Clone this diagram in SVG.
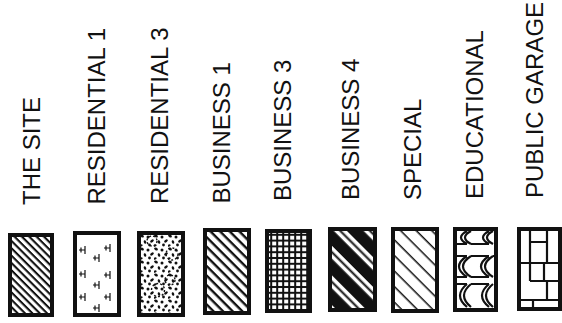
<svg xmlns="http://www.w3.org/2000/svg" width="562" height="323" viewBox="0 0 562 323">
<style>
.lbl{font-family:"Liberation Sans",Arial,sans-serif;font-size:24px;fill:#111}
.box{stroke:#111;stroke-width:4}
.ln{fill:none;stroke:#111;stroke-width:2.2}
</style>
<defs>
<pattern id="p1" width="10" height="5.2" patternUnits="userSpaceOnUse" patternTransform="rotate(45)">
<rect x="0" y="0" width="10" height="2.1" fill="#111"/></pattern>
<pattern id="p4" width="10" height="6.8" patternUnits="userSpaceOnUse" patternTransform="rotate(45)">
<rect x="0" y="0" width="10" height="2.4" fill="#111"/></pattern>
<pattern id="p7" width="10" height="11" patternUnits="userSpaceOnUse" patternTransform="rotate(45)">
<rect x="0" y="0" width="10" height="1.5" fill="#111"/></pattern>
<pattern id="p6" width="10" height="21" patternUnits="userSpaceOnUse" patternTransform="rotate(45)">
<rect x="0" y="0" width="10" height="21" fill="#111"/>
<rect x="0" y="2" width="10" height="3.6" fill="#fff"/>
<rect x="0" y="7.6" width="10" height="3.6" fill="#fff"/></pattern>
<pattern id="p5" x="265" y="229" width="6" height="5.8" patternUnits="userSpaceOnUse">
<rect x="0" y="0" width="6" height="5.8" fill="#111"/>
<rect x="1.2" y="1" width="4" height="3.8" fill="#fff"/></pattern>
<pattern id="p3" width="14" height="13" patternUnits="userSpaceOnUse">
<ellipse cx="2" cy="2" rx="2" ry="1.3" fill="#111" transform="rotate(30 2 2)"/>
<ellipse cx="8" cy="3" rx="1.5" ry="1.5" fill="#111"/>
<ellipse cx="12" cy="7" rx="2.1" ry="1.2" fill="#111" transform="rotate(-40 12 7)"/>
<ellipse cx="5" cy="8" rx="1.9" ry="1.2" fill="#111" transform="rotate(70 5 8)"/>
<ellipse cx="9.5" cy="11" rx="1.4" ry="1.4" fill="#111"/>
<ellipse cx="1" cy="11.5" rx="1.7" ry="1.1" fill="#111" transform="rotate(-20 1 11.5)"/>
</pattern>
<g id="t"><path d="M2,-4 V4 M2,0 H-4 M-2,-2.5 V2.5" fill="none" stroke="#111" stroke-width="1.2"/></g>
</defs>

<g id="labels">
<text class="lbl" transform="translate(40,205) rotate(-90)">THE SITE</text>
<text class="lbl" transform="translate(105,204.5) rotate(-90)">RESIDENTIAL 1</text>
<text class="lbl" transform="translate(168,204) rotate(-90)">RESIDENTIAL 3</text>
<text class="lbl" transform="translate(230,203.5) rotate(-90)">BUSINESS 1</text>
<text class="lbl" transform="translate(291,201) rotate(-90)">BUSINESS 3</text>
<text class="lbl" transform="translate(359,200) rotate(-90)">BUSINESS 4</text>
<text class="lbl" transform="translate(421,200) rotate(-90)">SPECIAL</text>
<text class="lbl" transform="translate(483,199) rotate(-90)">EDUCATIONAL</text>
<text class="lbl" transform="translate(543,198) rotate(-90)">PUBLIC GARAGE</text>
</g>

<g id="the-site"><rect class="box" x="10" y="235" width="42" height="80" fill="url(#p1)"/></g>

<g id="residential-1"><rect class="box" x="75" y="233" width="44" height="82" fill="#fff"/>
<use href="#t" x="83" y="250"/><use href="#t" x="108" y="248"/><use href="#t" x="97" y="258"/>
<use href="#t" x="83" y="274"/><use href="#t" x="108" y="275"/><use href="#t" x="97" y="285"/>
<use href="#t" x="83" y="297"/><use href="#t" x="108" y="297"/><use href="#t" x="97" y="308"/>
</g>

<g id="residential-3"><rect class="box" x="139" y="233" width="44" height="82" fill="url(#p3)"/>
<circle cx="172" cy="254" r="6" fill="none" stroke="#111" stroke-width="1.4" stroke-dasharray="2 2"/>
<circle cx="158" cy="290" r="6.5" fill="none" stroke="#111" stroke-width="1.4" stroke-dasharray="2 2"/>
<circle cx="152" cy="241" r="5" fill="none" stroke="#111" stroke-width="1.4" stroke-dasharray="2 2"/>
<circle cx="170" cy="280" r="5" fill="none" stroke="#111" stroke-width="1.4" stroke-dasharray="2 2"/>
</g>

<g id="business-1"><rect class="box" x="205" y="230" width="44" height="83" fill="url(#p4)"/></g>

<g id="business-3"><rect class="box" x="267" y="231" width="43" height="80" fill="url(#p5)"/></g>

<g id="business-4"><rect class="box" x="330" y="229" width="45" height="81" fill="url(#p6)"/></g>

<g id="special"><rect class="box" x="393" y="229" width="44" height="82" fill="url(#p7)"/></g>

<g id="educational"><rect class="box" x="455" y="229" width="41" height="81" fill="#fff"/>
<path class="ln" d="M467,231 Q455,237.5 467,244 M471,231 Q459,237.5 471,244 M489,231 Q477,237.5 489,244 M493,231 Q481,237.5 493,244
M457,244 H467 M471,244 H489 M457,256 H467 M471,256 H489 M493,256 H494
M467,256 Q451,266.5 467,277 M471,256 Q455,266.5 471,277 M489,256 Q473,266.5 489,277 M493,256 Q477,266.5 493,277
M457,277 H467 M471,277 H489 M457,284 H467 M471,284 H489
M467,284 Q453,295.5 467,307 M471,284 Q457,295.5 471,307 M489,284 Q475,295.5 489,307 M493,284 Q479,295.5 493,307"/>
</g>

<g id="public-garage"><rect class="box" x="519" y="229" width="41" height="80" fill="#fff"/>
<path d="M530,231 V263 M530,242 H547 M547,231 V263 M521,263 H558 M530,263 V281 M530,281 H558 M547,281 V300 M521,300 H558 M533,300 V307 M544,263 V281"
 fill="none" stroke="#111" stroke-width="2.2"/>
</g>
</svg>
